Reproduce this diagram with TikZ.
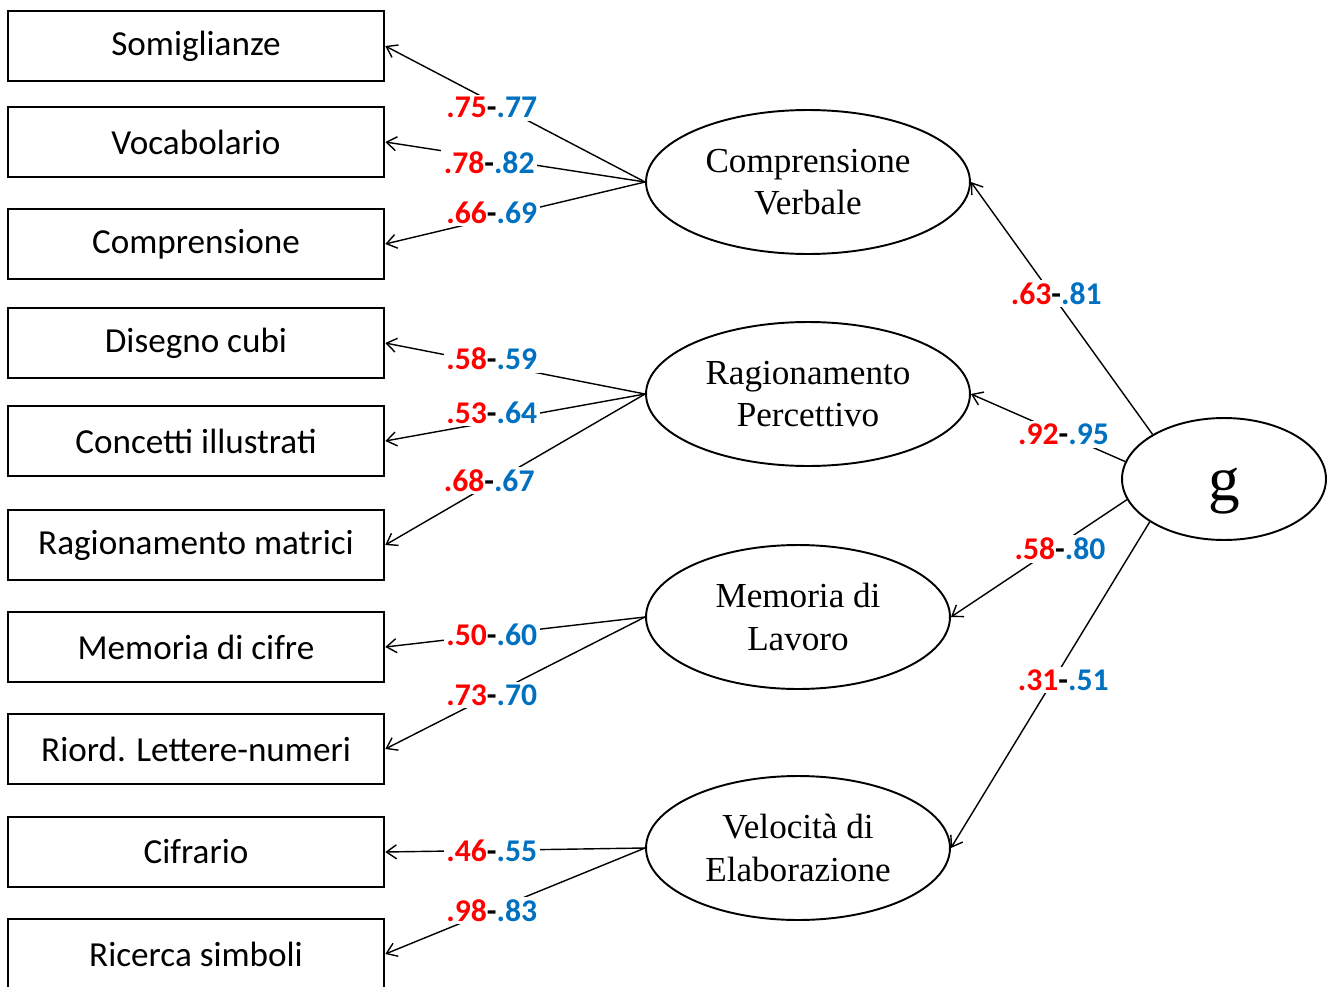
\documentclass[tikz,border=0pt]{standalone}
\usepackage{fontspec}
\setmainfont{Liberation Serif}
\newfontfamily\calib{Carlito}
\usetikzlibrary{shapes.geometric,arrows.meta}
\definecolor{valred}{RGB}{255,0,0}
\definecolor{valblue}{RGB}{0,112,192}
\newcommand{\ldg}[2]{{\color{valred}#1}-{\color{valblue}#2}}

\begin{document}
\begin{tikzpicture}[x=0.02cm,y=-0.02cm,
                    line width=0.8pt,>={Straight Barb[length=2mm,width=2.8mm]},
                    test node/.style={rectangle,draw,line width=1.5pt,minimum width=7.52cm,minimum height=1.4cm,inner sep=0pt,font=\calib\fontsize{20}{24}\selectfont},
                    factor node/.style={ellipse,draw,line width=1.1pt,minimum width=6.48cm,minimum height=2.88cm,inner sep=0pt,align=center,font=\fontsize{20}{24}\selectfont},
                    weight/.style={fill=white,inner sep=1.5pt,font=\calib\bfseries\fontsize{18}{20}\selectfont}]

        \useasboundingbox (0,0) rectangle (1333,987);

        % Define vertices
        \node[test node] (S)  at (196,46)  {Somiglianze};
        \node[test node] (V)  at (196,142) {Vocabolario};
        \node[test node] (C)  at (196,244) {Comprensione};
        \node[test node] (DC) at (196,343) {Disegno cubi};
        \node[test node] (CI) at (196,441) {Concetti illustrati};
        \node[test node] (RM) at (196,545) {Ragionamento matrici};
        \node[test node] (MC) at (196,647) {Memoria di cifre};
        \node[test node] (RL) at (196,749) {Riord. Lettere-numeri};
        \node[test node] (CF) at (196,852) {Cifrario};
        \node[test node] (RS) at (196,954) {Ricerca simboli};

        \node[factor node] (CV) at (808,182) {Comprensione\\Verbale};
        \node[factor node] (RP) at (808,394) {Ragionamento\\Percettivo};
        \node[factor node,minimum width=6.08cm] (ML) at (798,617) {Memoria di\\Lavoro};
        \node[factor node,minimum width=6.08cm] (VE) at (798,848) {Velocità di\\Elaborazione};
        \node[factor node,minimum width=4.08cm,minimum height=2.44cm,text height=33pt,text depth=8pt,font=\fontsize{36}{40}\selectfont] (g) at (1224,479) {g};

        % Draw edges
        \path[->]
            (CV.west) edge node[weight,pos=.59,yshift=-3.4pt] (w1) {\ldg{.75}{.77}} (S.east)
            (CV.west) edge node[weight,pos=.60,yshift=-2.8pt] (w2) {\ldg{.78}{.82}} (V.east)
            (CV.west) edge node[weight,pos=.59,yshift=3.4pt] (w3) {\ldg{.66}{.69}} (C.east)
            (RP.west) edge node[weight,pos=.59,yshift=2.8pt] (w4) {\ldg{.58}{.59}} (DC.east)
            (RP.west) edge node[weight,pos=.59,yshift=5pt] (w5) {\ldg{.53}{.64}} (CI.east)
            (RP.west) edge node[weight,pos=.60,yshift=2.3pt] (w6) {\ldg{.68}{.67}} (RM.east)
            (ML.west) edge node[weight,pos=.59] (w7) {\ldg{.50}{.60}} (MC.east)
            (ML.west) edge node[weight,pos=.59] (w8) {\ldg{.73}{.70}} (RL.east)
            (VE.west) edge node[weight,pos=.59] (w9) {\ldg{.46}{.55}} (CF.east)
            (VE.west) edge node[weight,pos=.59] (w10) {\ldg{.98}{.83}} (RS.east)
            (g.148) edge node[weight,pos=.53,yshift=4pt] (w11) {\ldg{.63}{.81}} (CV.east)
            (g.170) edge node[weight,pos=.40] (w12) {\ldg{.92}{.95}} (RP.east)
            (g.192) edge node[weight,pos=.38,yshift=-2.8pt] (w13) {\ldg{.58}{.80}} (ML.east)
            (g.210) edge node[weight,pos=.47,xshift=4pt,yshift=-2.8pt] (w14) {\ldg{.31}{.51}} (VE.east);

        \end{tikzpicture}
\end{document}
